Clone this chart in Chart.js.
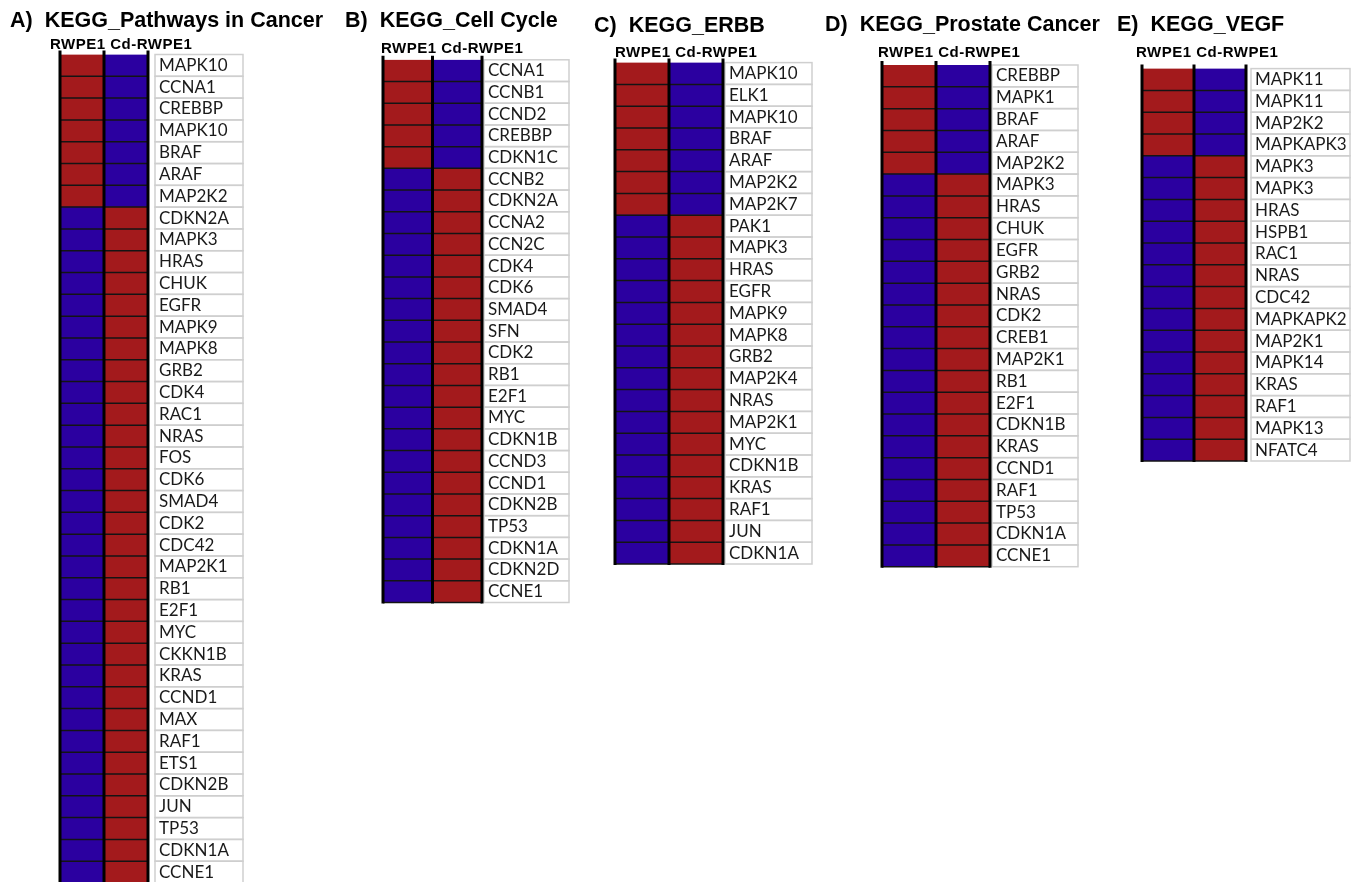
<!DOCTYPE html>
<html>
<head>
<meta charset="utf-8">
<script src="https://cdn.jsdelivr.net/npm/chart.js@4.4.1/dist/chart.umd.min.js"></script>
<style>
  html, body { margin: 0; padding: 0; background: #fff; overflow: hidden; }
  #page { position: relative; width: 1366px; height: 882px; overflow: hidden; }
  canvas { position: absolute; left: 0; top: 0; }
  .ttl { position: absolute; font: bold 21.5px "Liberation Sans", Arial, sans-serif; white-space: pre; color: #000; line-height: 1; }
  .hdr { position: absolute; font: bold 15px "Liberation Sans", Arial, sans-serif; letter-spacing: 0.5px; white-space: pre; color: #000; line-height: 1; }
</style>
</head>
<body>
<div id="page">
  <canvas id="chartA" width="1366" height="930"></canvas>
  <canvas id="chartB" width="1366" height="930"></canvas>
  <canvas id="chartC" width="1366" height="930"></canvas>
  <canvas id="chartD" width="1366" height="930"></canvas>
  <canvas id="chartE" width="1366" height="930"></canvas>

  <div class="ttl" style="left:10px;top:10px">A)  KEGG_Pathways in Cancer</div>
  <div class="ttl" style="left:345px;top:10px">B)  KEGG_Cell Cycle</div>
  <div class="ttl" style="left:594px;top:15px">C)  KEGG_ERBB</div>
  <div class="ttl" style="left:825px;top:14px">D)  KEGG_Prostate Cancer</div>
  <div class="ttl" style="left:1117px;top:14px">E)  KEGG_VEGF</div>

  <div class="hdr" style="left:50px;top:36px">RWPE1 Cd-RWPE1</div>
  <div class="hdr" style="left:381px;top:40px">RWPE1 Cd-RWPE1</div>
  <div class="hdr" style="left:615px;top:44px">RWPE1 Cd-RWPE1</div>
  <div class="hdr" style="left:878px;top:44px">RWPE1 Cd-RWPE1</div>
  <div class="hdr" style="left:1136px;top:44px">RWPE1 Cd-RWPE1</div>
</div>

<script>
'use strict';

// 1 = high (red), -1 = low (blue)
const aGenes = ['MAPK10', 'CCNA1', 'CREBBP', 'MAPK10', 'BRAF', 'ARAF', 'MAP2K2', 'CDKN2A', 'MAPK3', 'HRAS',
  'CHUK', 'EGFR', 'MAPK9', 'MAPK8', 'GRB2', 'CDK4', 'RAC1', 'NRAS', 'FOS', 'CDK6', 'SMAD4', 'CDK2', 'CDC42',
  'MAP2K1', 'RB1', 'E2F1', 'MYC', 'CKKN1B', 'KRAS', 'CCND1', 'MAX', 'RAF1', 'ETS1', 'CDKN2B', 'JUN', 'TP53',
  'CDKN1A', 'CCNE1'];
const aRwpe1 = [1, 1, 1, 1, 1, 1, 1, -1, -1, -1, -1, -1, -1, -1, -1, -1, -1, -1, -1, -1, -1, -1, -1,
  -1, -1, -1, -1, -1, -1, -1, -1, -1, -1, -1, -1, -1, -1, -1];
const aCd = [-1, -1, -1, -1, -1, -1, -1, 1, 1, 1, 1, 1, 1, 1, 1, 1, 1, 1, 1, 1, 1, 1, 1,
  1, 1, 1, 1, 1, 1, 1, 1, 1, 1, 1, 1, 1, 1, 1];

const bGenes = ['CCNA1', 'CCNB1', 'CCND2', 'CREBBP', 'CDKN1C', 'CCNB2', 'CDKN2A', 'CCNA2', 'CCN2C', 'CDK4',
  'CDK6', 'SMAD4', 'SFN', 'CDK2', 'RB1', 'E2F1', 'MYC', 'CDKN1B', 'CCND3', 'CCND1', 'CDKN2B', 'TP53',
  'CDKN1A', 'CDKN2D', 'CCNE1'];
const bRwpe1 = [1, 1, 1, 1, 1, -1, -1, -1, -1, -1, -1, -1, -1, -1, -1, -1, -1, -1, -1, -1, -1, -1, -1, -1, -1];
const bCd = [-1, -1, -1, -1, -1, 1, 1, 1, 1, 1, 1, 1, 1, 1, 1, 1, 1, 1, 1, 1, 1, 1, 1, 1, 1];

const cGenes = ['MAPK10', 'ELK1', 'MAPK10', 'BRAF', 'ARAF', 'MAP2K2', 'MAP2K7', 'PAK1', 'MAPK3', 'HRAS',
  'EGFR', 'MAPK9', 'MAPK8', 'GRB2', 'MAP2K4', 'NRAS', 'MAP2K1', 'MYC', 'CDKN1B', 'KRAS', 'RAF1', 'JUN',
  'CDKN1A'];
const cRwpe1 = [1, 1, 1, 1, 1, 1, 1, -1, -1, -1, -1, -1, -1, -1, -1, -1, -1, -1, -1, -1, -1, -1, -1];
const cCd = [-1, -1, -1, -1, -1, -1, -1, 1, 1, 1, 1, 1, 1, 1, 1, 1, 1, 1, 1, 1, 1, 1, 1];

const dGenes = ['CREBBP', 'MAPK1', 'BRAF', 'ARAF', 'MAP2K2', 'MAPK3', 'HRAS', 'CHUK', 'EGFR', 'GRB2',
  'NRAS', 'CDK2', 'CREB1', 'MAP2K1', 'RB1', 'E2F1', 'CDKN1B', 'KRAS', 'CCND1', 'RAF1', 'TP53', 'CDKN1A',
  'CCNE1'];
const dRwpe1 = [1, 1, 1, 1, 1, -1, -1, -1, -1, -1, -1, -1, -1, -1, -1, -1, -1, -1, -1, -1, -1, -1, -1];
const dCd = [-1, -1, -1, -1, -1, 1, 1, 1, 1, 1, 1, 1, 1, 1, 1, 1, 1, 1, 1, 1, 1, 1, 1];

const eGenes = ['MAPK11', 'MAPK11', 'MAP2K2', 'MAPKAPK3', 'MAPK3', 'MAPK3', 'HRAS', 'HSPB1', 'RAC1', 'NRAS',
  'CDC42', 'MAPKAPK2', 'MAP2K1', 'MAPK14', 'KRAS', 'RAF1', 'MAPK13', 'NFATC4'];
const eRwpe1 = [1, 1, 1, 1, -1, -1, -1, -1, -1, -1, -1, -1, -1, -1, -1, -1, -1, -1];
const eCd = [-1, -1, -1, -1, 1, 1, 1, 1, 1, 1, 1, 1, 1, 1, 1, 1, 1, 1];

const RED = '#a31a1c';
const BLUE = '#2b00a0';
const CANVAS_W = 1366;
const CANVAS_H = 930; // taller than the page so panel A's last row isn't squeezed

// draws the black cell lines and the grey label boxes
const heatGrid = {
  id: 'heatGrid',
  afterDatasetsDraw(chart, args, opts) {
    const ctx = chart.ctx;
    const x = chart.scales.x;
    const y = chart.scales.y;
    const n = chart.data.labels.length;
    const top = chart.chartArea.top;
    const bottom = chart.chartArea.bottom;
    const rowH = (bottom - top) / n;
    const x0 = x.getPixelForValue(0);
    const x2 = x.getPixelForValue(2);

    ctx.save();
    ctx.strokeStyle = '#cfcfcf';
    ctx.lineWidth = 1.5;
    for (let i = 0; i < n; i++) {
      const yc = y.getPixelForValue(i);
      ctx.strokeRect(opts.boxL, yc - rowH / 2, opts.boxR - opts.boxL, rowH);
    }

    ctx.strokeStyle = '#141414';
    ctx.lineWidth = 1.5;
    ctx.beginPath();
    for (let i = 1; i <= n; i++) {
      const yy = y.getPixelForValue(i - 1) + rowH / 2;
      ctx.moveTo(x0, yy);
      ctx.lineTo(x2, yy);
    }
    ctx.stroke();

    ctx.strokeStyle = '#000';
    ctx.lineWidth = 3;
    ctx.beginPath();
    [0, 1, 2].forEach(v => {
      const px = x.getPixelForValue(v);
      ctx.moveTo(px, top - 4);
      ctx.lineTo(px, bottom + 1);
    });
    ctx.stroke();
    ctx.restore();
  }
};

function makePanel(id, genes, rwpe1, cd, pos) {
  const ctx = document.getElementById(id);
  return new Chart(ctx, {
    type: 'bar',
    data: {
      labels: genes,
      datasets: [
        {
          label: 'RWPE1',
          data: genes.map(() => [0, 1]),
          backgroundColor: rwpe1.map(v => v > 0 ? RED : BLUE)
        },
        {
          label: 'Cd-RWPE1',
          data: genes.map(() => [1, 2]),
          backgroundColor: cd.map(v => v > 0 ? RED : BLUE)
        }
      ]
    },
    options: {
      indexAxis: 'y',
      responsive: false,
      animation: false,
      events: [],
      datasets: {
        bar: { grouped: false, barPercentage: 1, categoryPercentage: 1, borderWidth: 0 }
      },
      layout: {
        padding: {
          left: pos.hmL,
          right: CANVAS_W - pos.boxR,
          top: pos.top,
          bottom: CANVAS_H - pos.bottom
        }
      },
      scales: {
        x: { type: 'linear', min: 0, max: 2, display: false },
        y: {
          type: 'category',
          position: 'right',
          offset: true,
          grid: { display: false, drawTicks: false },
          border: { display: false },
          ticks: {
            autoSkip: false,
            padding: pos.boxL - pos.hmR + 4,
            color: '#1a1a1a',
            font: { family: 'Lato', size: 17 }
          },
          afterFit(scale) {
            scale.width = pos.boxR - pos.hmR;
          }
        }
      },
      plugins: {
        legend: { display: false },
        tooltip: { enabled: false },
        heatGrid: { boxL: pos.boxL, boxR: pos.boxR }
      }
    },
    plugins: [heatGrid]
  });
}

makePanel('chartA', aGenes, aRwpe1, aCd, { hmL: 60, hmR: 148, boxL: 155, boxR: 243, top: 54.5, bottom: 883 });
makePanel('chartB', bGenes, bRwpe1, bCd, { hmL: 383, hmR: 482, boxL: 484, boxR: 569, top: 59.8, bottom: 602.5 });
makePanel('chartC', cGenes, cRwpe1, cCd, { hmL: 615, hmR: 723, boxL: 725, boxR: 812, top: 62.6, bottom: 564 });
makePanel('chartD', dGenes, dRwpe1, dCd, { hmL: 882, hmR: 990, boxL: 992, boxR: 1078, top: 65, bottom: 566.7 });
makePanel('chartE', eGenes, eRwpe1, eCd, { hmL: 1142, hmR: 1246, boxL: 1251, boxR: 1350, top: 68.6, bottom: 461 });
</script>
</body>
</html>
